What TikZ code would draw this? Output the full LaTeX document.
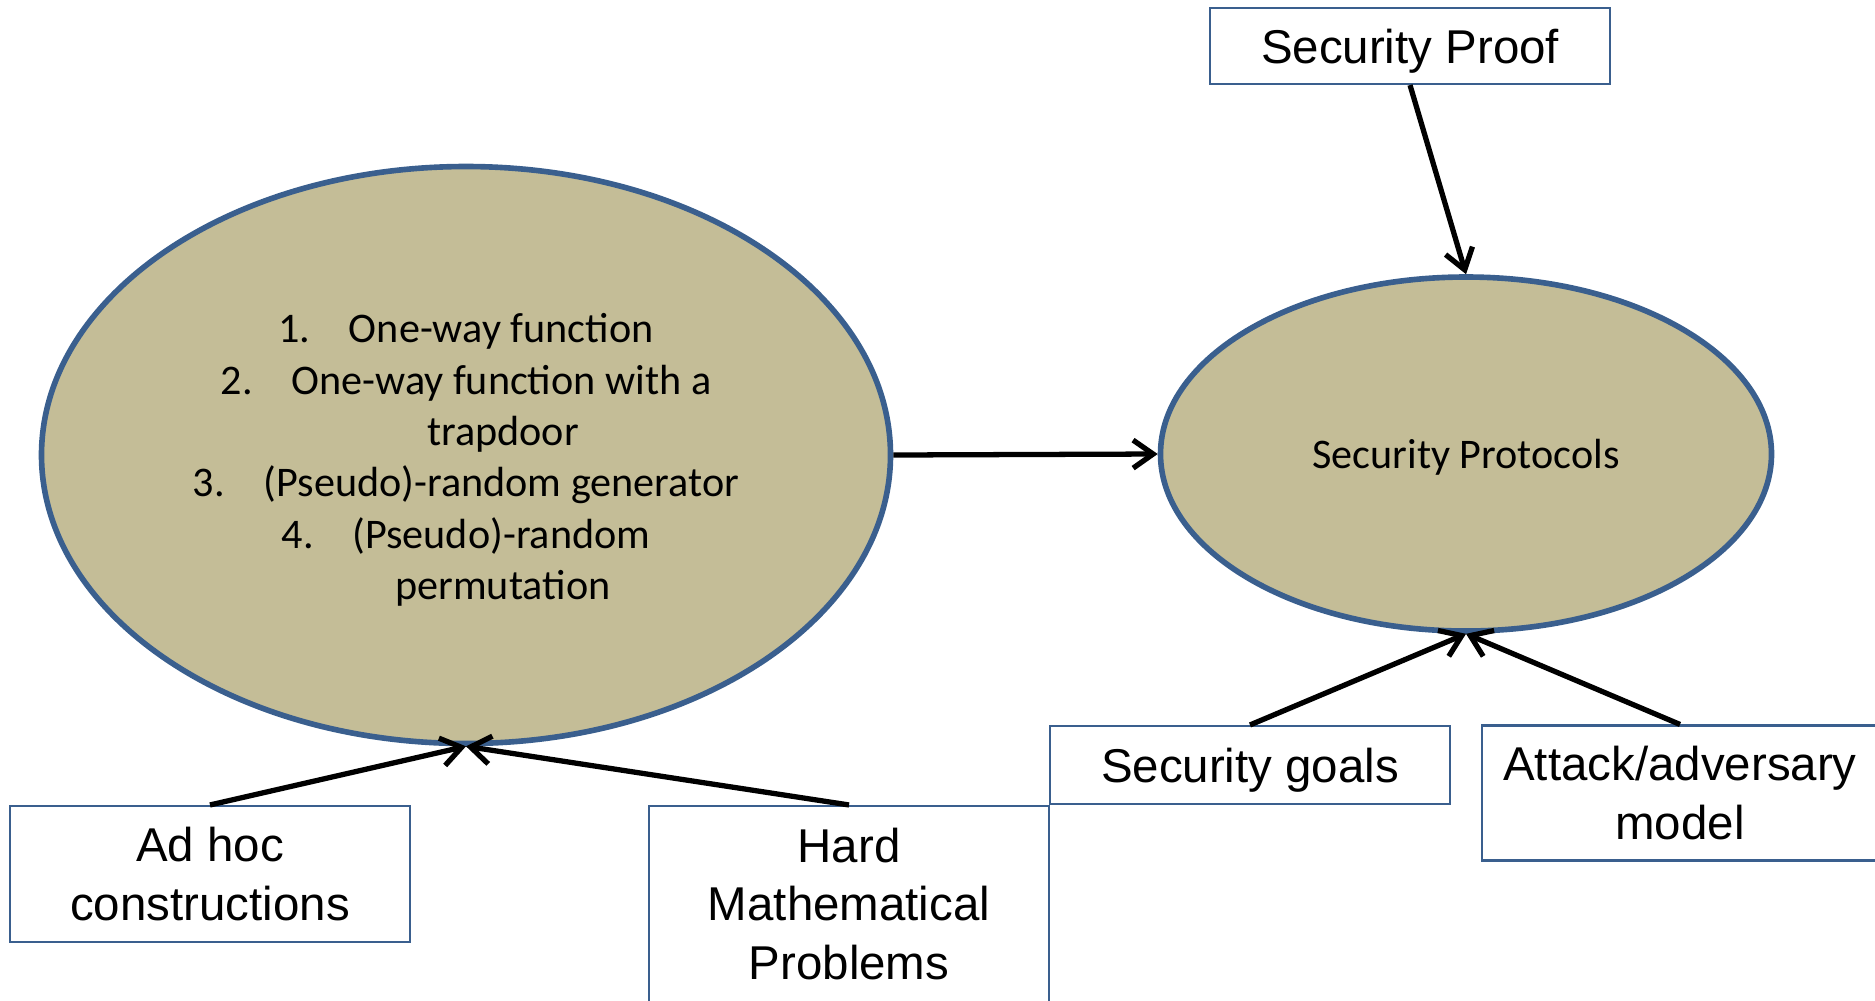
\documentclass[tikz,border=0pt]{standalone}
\usepackage{fontspec}
\setmainfont{Liberation Sans}
\newfontfamily\calib{Carlito}
\usetikzlibrary{shapes.geometric,arrows.meta}
\definecolor{ovalfill}{HTML}{C4BD97}
\definecolor{ovalline}{HTML}{3A5F8E}
\begin{document}
\begin{tikzpicture}[x=0.1mm,y=-0.1mm,
  oval/.style={ellipse, draw=ovalline, line width=1.6pt, fill=ovalfill, inner sep=0pt,
    font=\calib\fontsize{12}{14.6}\selectfont, align=center},
  tbox/.style={draw=ovalline, line width=0.6pt, inner sep=0pt,
    font=\fontsize{13.5}{16.7}\selectfont, align=center},
  conn/.style={line width=1.5pt, -{Straight Barb[length=2mm,width=2.8mm,line width=1.5pt]}}]
\useasboundingbox (0,0) rectangle (1875,1000);
\node[oval, minimum width=84.9mm, minimum height=57.7mm] (big) at (466,455) {};
\node[font=\calib\fontsize{12}{14.6}\selectfont, align=center] (list) at (466,460)
  {1.\hspace{11pt}One-way function\\
   2.\hspace{11pt}One-way function with a\\
   \hspace*{21pt}trapdoor\\
   3.\hspace{11pt}(Pseudo)-random generator\\
   4.\hspace{11pt}(Pseudo)-random\\
   \hspace*{21pt}permutation};
\node[oval, minimum width=61.1mm, minimum height=35.4mm, text depth=0pt] (prot) at (1466,454) {Security Protocols};
\node[tbox, minimum width=40mm, minimum height=7.6mm, text depth=0pt] (proof) at (1410,46) {Security Proof};
\node[tbox, minimum width=40mm, minimum height=7.8mm, text depth=-0.4pt] (goals) at (1250,765) {Security goals};
\node[tbox, minimum width=39.6mm, minimum height=13.5mm] (attack) at (1680,793) {Attack/adversary\\model};
\node[tbox, minimum width=40mm, minimum height=13.6mm] (adhoc) at (210,874) {Ad hoc\\constructions};
\node[tbox, minimum width=40mm, minimum height=19.6mm] (hard) at (849,904) {Hard\\Mathematical\\Problems};
\draw[conn] (big.east) -- (prot.west);
\draw[conn] (proof.south) -- (prot.north);
\draw[conn] (goals.north) -- (prot.south);
\draw[conn] (attack.north) -- (prot.south);
\draw[conn] (adhoc.north) -- (big.south);
\draw[conn] (hard.north) -- (big.south);
\end{tikzpicture}
\end{document}
